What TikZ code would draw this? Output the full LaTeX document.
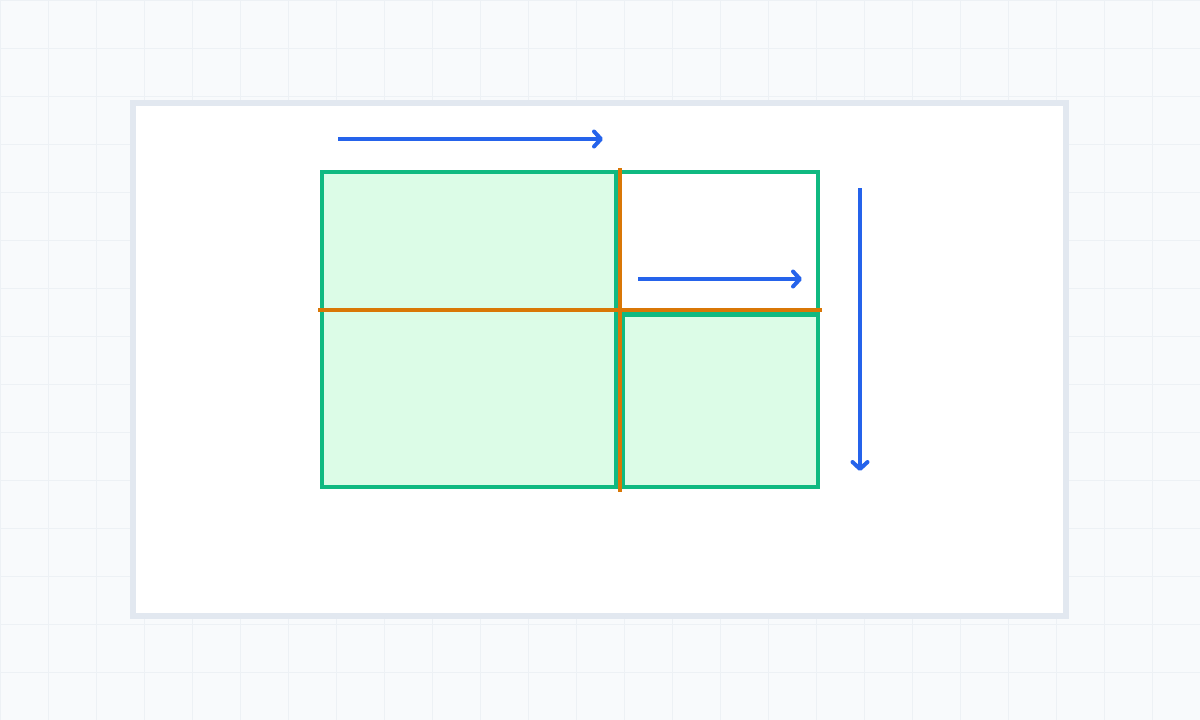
\documentclass[tikz,border=0pt]{standalone}
\usepackage{xcolor}
\usepackage{tikz}
\usetikzlibrary{arrows.meta}

\definecolor{gridbg}{HTML}{F8FAFC}
\definecolor{gridline}{HTML}{EDF1F5}
\definecolor{panelline}{HTML}{E2E8F0}
\definecolor{piecegreen}{HTML}{10B981}
\definecolor{piecefill}{HTML}{DCFCE7}
\definecolor{cutorange}{HTML}{D97706}
\definecolor{dirblue}{HTML}{2563EB}

\begin{document}
\begin{tikzpicture}[x=1pt,y=-1pt]
      \tikzset{panel/.style={draw=panelline,line width=6pt,fill=white}}
      \tikzset{piece/.style={draw=piecegreen,line width=4.5pt,fill=piecefill}}
      \tikzset{rest/.style={draw=piecegreen,line width=4.5pt,fill=white}}
      \tikzset{cut/.style={draw=cutorange,line width=4pt}}
      \tikzset{dir/.style={draw=dirblue,line width=3.3pt,
        -{Straight Barb[length=7pt,width=15pt,line width=4pt,round]}}}

      \useasboundingbox (0,0) rectangle (1200,720);
      \fill[gridbg] (0,0) rectangle (1200,720);
      \draw[gridline,line width=1pt,step=48pt] (0,0) grid (1200,720);

      % sheet
      \draw[panel] (133,103) rectangle (1066,616);

      % pieces
      \draw[piece] (322,172) rectangle (616,487);
      \draw[rest]  (616,172) rectangle (818,310);
      \draw[piece] (623,314.5) rectangle (818,487);

      % cuts
      \coordinate (vtop) at (620,168);
      \coordinate (vbot) at (620,492);
      \coordinate (hleft) at (318,310);
      \coordinate (hright) at (822,310);
      \draw[cut] (vtop) -- (vbot);
      \draw[cut] (hleft) -- (hright);

      % directions
      \coordinate (a1) at (338,139);
      \coordinate (a2) at (603,139);
      \coordinate (b1) at (638,279);
      \coordinate (b2) at (802,279);
      \coordinate (c1) at (860,188);
      \coordinate (c2) at (860,471);
      \draw[dir] (a1) -- (a2);
      \draw[dir] (b1) -- (b2);
      \draw[dir] (c1) -- (c2);
\end{tikzpicture}
\end{document}
